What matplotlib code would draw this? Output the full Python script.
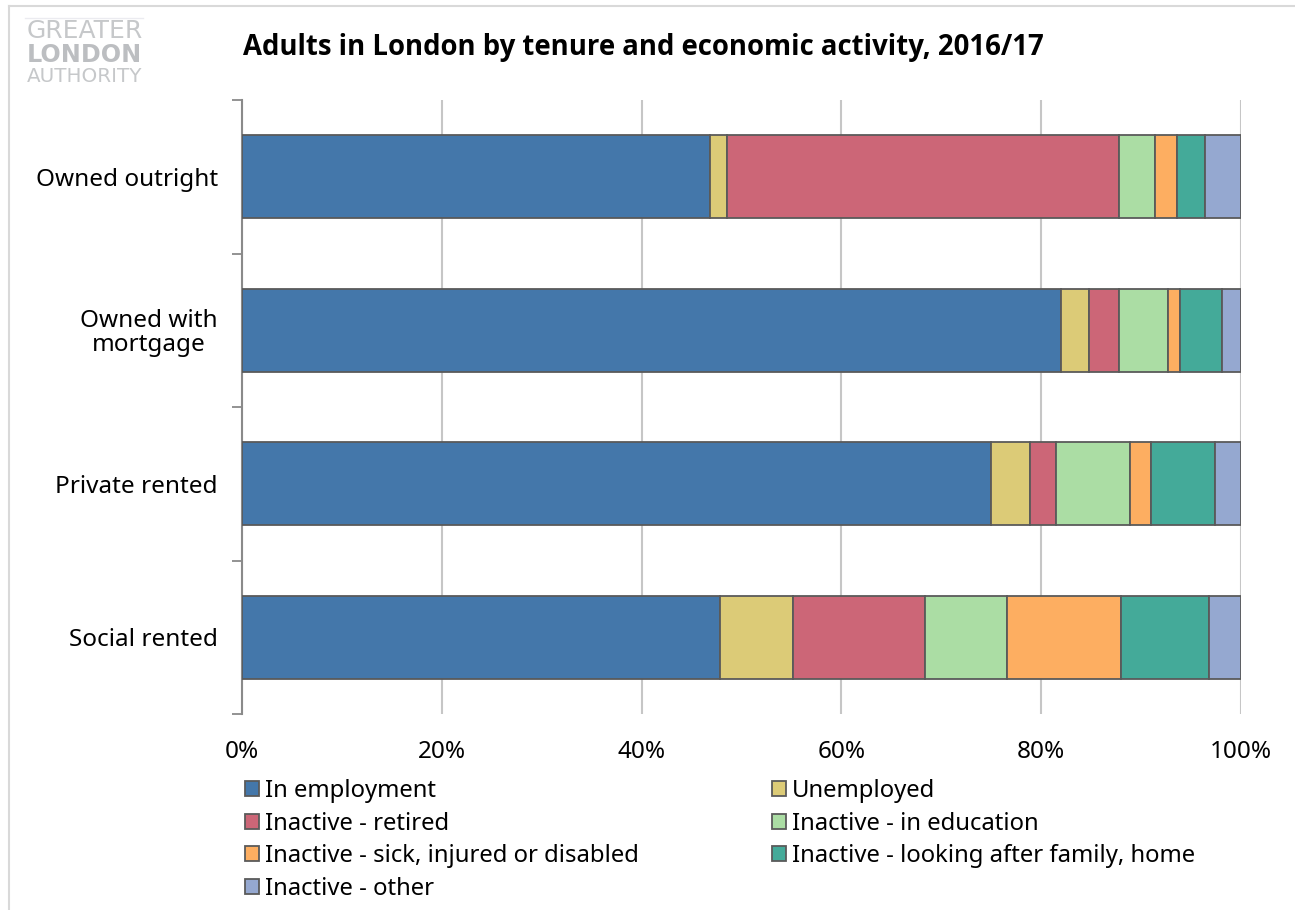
import matplotlib
matplotlib.use("Agg")
import matplotlib.pyplot as plt
import matplotlib.lines as lines
from matplotlib.patches import Patch
import numpy as np

plt.rcParams['font.family'] = ['Noto Sans', 'DejaVu Sans']

W, H = 1295, 910

tenures = ['Owned outright', 'Owned with\nmortgage', 'Private rented', 'Social rented']
x_ticks = [0, 20, 40, 60, 80, 100]
x_labels = ['0%', '20%', '40%', '60%', '80%', '100%']

# share of adults (%) per tenure, one list per activity
in_employment = [46.8, 82.0, 75.0, 47.8]
unemployed = [1.7, 2.8, 3.9, 7.4]
retired = [39.3, 3.0, 2.6, 13.2]
in_education = [3.6, 4.9, 7.4, 8.2]
sick_disabled = [2.2, 1.2, 2.1, 11.4]
family_home = [2.8, 4.2, 6.4, 8.8]
other = [3.6, 1.9, 2.6, 3.2]

series_names = ['In employment', 'Unemployed', 'Inactive - retired', 'Inactive - in education',
                'Inactive - sick, injured or disabled', 'Inactive - looking after family, home',
                'Inactive - other']
series_vals = [in_employment, unemployed, retired, in_education, sick_disabled, family_home, other]
colors = ['#4477aa', '#dccb77', '#cc6677', '#abdda4', '#fdae61', '#44aa99', '#95a8d0']
edge = '#5a5a5a'


def px(x, y):
    # pixel position (from top-left) -> figure fraction
    return x / W, 1 - y / H


fig = plt.figure(figsize=(W / 100, H / 100), dpi=100)
l, b = px(242, 714)
r, t = px(1241, 100)
ax = fig.add_axes([l, b, r - l, t - b])

ypos = np.arange(len(tenures))
left = np.zeros(len(tenures))
for name, vals, c in zip(series_names, series_vals, colors):
    ax.barh(ypos, vals, left=left, height=0.54, color=c, edgecolor=edge,
            linewidth=1.3, label=name, zorder=3)
    left += np.array(vals)

ax.set_xlim(0, 100)
ax.set_ylim(len(tenures) - 0.5, -0.5)
ax.set_xticks(x_ticks)
ax.set_xticklabels(x_labels, fontsize=17.5)
ax.tick_params(axis='x', length=0, pad=19)
ax.grid(axis='x', color='#c6c6c6', linewidth=1.5, zorder=0)

# category labels sit between tick marks, Excel style
ax.set_yticks(np.arange(-0.5, len(tenures), 1.0))
ax.set_yticklabels([])
ax.set_yticks(ypos, minor=True)
ax.set_yticklabels(tenures, minor=True, fontsize=17.5, multialignment='center',
                   linespacing=1.0)
ax.tick_params(axis='y', which='major', length=7, width=1.3, color='#8a8a8a', direction='out')
ax.tick_params(axis='y', which='minor', length=0, pad=17.5)

for s in ['top', 'right', 'bottom']:
    ax.spines[s].set_visible(False)
ax.spines['left'].set_color('#8a8a8a')
ax.spines['left'].set_linewidth(1.5)

fig.text(*px(243, 55), 'Adults in London by tenure and economic activity, 2016/17',
         fontsize=19.8, fontweight='bold', family=['Open Sans', 'DejaVu Sans'],
         va='baseline', ha='left')

# logo
fig.text(*px(27, 38), 'GREATER', fontsize=18, color='#c6c8ca', family='DejaVu Sans',
         va='baseline', ha='left')
fig.text(*px(27, 62), 'LONDON', fontsize=17.2, color='#bcbec1', fontweight='bold',
         family='DejaVu Sans', va='baseline', ha='left')
fig.text(*px(27, 82), 'AUTHORITY', fontsize=14.3, color='#c6c8ca', family='DejaVu Sans',
         va='baseline', ha='left')
fig.add_artist(lines.Line2D([25 / W, 143 / W], [1 - 18 / H] * 2, color='#ebebf0', lw=1))

# outer frame
fig.add_artist(lines.Line2D([9 / W, 1], [1 - 6 / H] * 2, color='#d9d9d9', lw=1.5))
fig.add_artist(lines.Line2D([9 / W] * 2, [1 - 6 / H, 0], color='#d9d9d9', lw=1.5))

handles = [Patch(facecolor=c, edgecolor=edge, linewidth=1.3, label=n)
           for n, c in zip(series_names, colors)]
leg_kw = dict(frameon=False, fontsize=17.2, handlelength=0.58, handleheight=0.58,
              handletextpad=0.25, labelspacing=0.36, borderpad=0, borderaxespad=0)
fig.legend(handles=[handles[i] for i in (0, 2, 4, 6)], loc='upper left',
           bbox_to_anchor=px(245, 779), **leg_kw)
fig.legend(handles=[handles[i] for i in (1, 3, 5)], loc='upper left',
           bbox_to_anchor=px(772, 779), **leg_kw)

fig.savefig('out.png', dpi=100)
